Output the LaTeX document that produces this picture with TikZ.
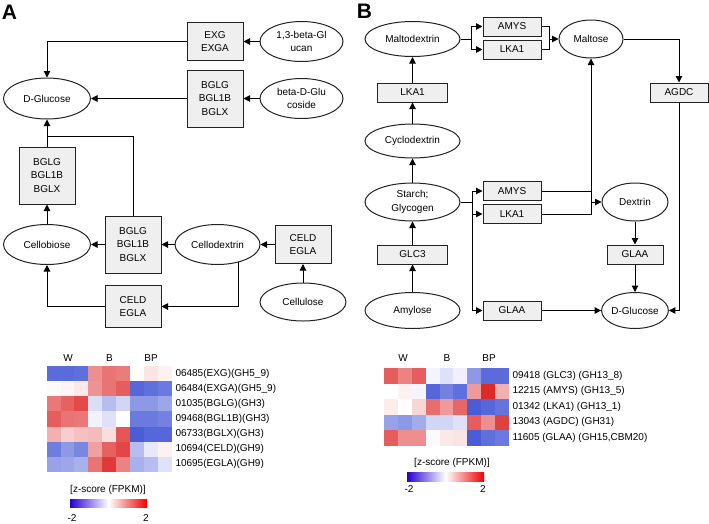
\documentclass[tikz,border=0pt]{standalone}
\usepackage{fontspec}
\setmainfont{Liberation Sans}
\usetikzlibrary{shapes.geometric,arrows.meta,calc}
\definecolor{boxfill}{HTML}{EFEFEF}
\definecolor{edge}{HTML}{222222}
\definecolor{hB}{RGB}{50,70,210}
\definecolor{hR}{RGB}{220,30,30}
\definecolor{cbB}{RGB}{40,0,210}
\definecolor{cbR}{RGB}{240,0,0}
\newcommand\hmrow[4]{\foreach \c/\p [count=\i from 0] in {#4} {\fill[\c!\p!white] ({#1+13.89*\i},#2) rectangle +(14.1,{#3+0.2});}}
\begin{document}
\begin{tikzpicture}[x=1pt,y=-1pt,font=\fontsize{10}{13.5}\selectfont,line width=1pt,
  ell/.style={ellipse,draw=edge,line width=1pt,inner sep=0pt,align=center},
  bx/.style={rectangle,draw=edge,fill=boxfill,line width=1pt,inner sep=0pt,align=center,minimum width=56pt},
  arr/.style={-{Triangle[length=6.5pt,width=6.5pt]}},
  lbl/.style={font=\fontsize{21}{21}\selectfont\bfseries,inner sep=0pt},
  rl/.style={anchor=west,inner sep=0pt},
  cl/.style={inner sep=0pt}]
\useasboundingbox (0,0) rectangle (709,523);
% panel labels
\node[lbl] (labA) at (9.5,12.5) {A};
\node[lbl] (labB) at (364.5,11.5) {B};
% ---------------- Panel A ----------------
\node[ell,minimum width=87pt,minimum height=41pt] (aglc) at (47,98.5) {D-Glucose};
\node[bx,minimum height=38pt] (aexg) at (215,41.5) {EXG\\EXGA};
\node[ell,minimum width=83pt,minimum height=40pt] (a13) at (301.5,41.5) {1,3-beta-Gl\\ucan};
\node[bx,minimum height=57pt] (abg1) at (215,98.5) {BGLG\\BGL1B\\BGLX};
\node[ell,minimum width=83pt,minimum height=40pt] (abdg) at (301.5,98.5) {beta-D-Glu\\coside};
\node[bx,minimum height=57pt] (abg2) at (47,175.5) {BGLG\\BGL1B\\BGLX};
\node[ell,minimum width=87pt,minimum height=40pt] (acb) at (47,244.5) {Cellobiose};
\node[bx,minimum height=57pt] (abg3) at (133,244.5) {BGLG\\BGL1B\\BGLX};
\node[ell,minimum width=85pt,minimum height=40pt] (acd) at (217.5,244.5) {Cellodextrin};
\node[bx,minimum height=38pt] (acel) at (303,244.5) {CELD\\EGLA};
\node[ell,minimum width=86pt,minimum height=38pt] (acl) at (303,302) {Cellulose};
\node[bx,minimum height=42pt] (acel2) at (133,306.5) {CELD\\EGLA};
\coordinate (aj) at (47,136);
\draw[arr] (a13) -- (aexg);
\draw[arr] (aexg.west) -| (aglc.north);
\draw[arr] (abdg) -- (abg1);
\draw[arr] (abg1) -- (aglc);
\draw[arr] (abg2) -- (aglc);
\draw (abg3.north) |- (aj);
\draw[arr] (acl) -- (acel);
\draw[arr] (acel) -- (acd);
\draw[arr] (acd) -- (abg3);
\draw[arr] (abg3) -- (acb);
\draw[arr] (acb) -- (abg2);
\draw[arr] (acd.-41) |- (acel2.east);
\draw[arr] (acel2.west) -| (acb.south);
% heatmap A
\node[cl] (hAw) at (68,358) {W};
\node[cl] (hAb) at (109.5,358) {B};
\node[cl] (hAbp) at (151,358) {BP};
\hmrow{46.7}{366}{15.14}{hB/80,hB/80,hB/78,hR/50,hR/62,hR/58,hB/0,hR/12,hR/6}
\hmrow{46.7}{381.14}{15.14}{hR/2,hR/5,hR/10,hR/48,hR/62,hR/72,hB/82,hB/78,hB/72}
\hmrow{46.7}{396.28}{15.14}{hR/60,hR/70,hR/80,hB/18,hB/35,hB/22,hB/55,hB/55,hB/48}
\hmrow{46.7}{411.42}{15.14}{hR/72,hR/62,hR/60,hB/7,hB/16,hB/0,hB/72,hB/72,hB/68}
\hmrow{46.7}{426.56}{15.14}{hR/35,hR/22,hR/28,hR/30,hR/15,hR/75,hB/88,hB/82,hB/82}
\hmrow{46.7}{441.70}{15.14}{hB/70,hB/55,hB/65,hR/42,hR/70,hR/82,hB/35,hB/12,hR/6}
\hmrow{46.7}{456.84}{15.14}{hB/50,hB/48,hB/42,hR/62,hR/88,hR/55,hB/42,hB/35,hB/15}
\node[rl] (ra1) at (175,373.6) {06485(EXG)(GH5\_9)};
\node[rl] (ra2) at (175,388.7) {06484(EXGA)(GH5\_9)};
\node[rl] (ra3) at (175,403.9) {01035(BGLG)(GH3)};
\node[rl] (ra4) at (175,419.0) {09468(BGL1B)(GH3)};
\node[rl] (ra5) at (175,434.1) {06733(BGLX)(GH3)};
\node[rl] (ra6) at (175,449.3) {10694(CELD)(GH9)};
\node[rl] (ra7) at (175,464.4) {10695(EGLA)(GH9)};
\node[cl] (cbAt) at (108,490) {[z-score (FPKM)]};
\shade[left color=cbB,right color=cbR,middle color=white] (70,499) rectangle (147,507.5);
\node[cl] (cbAl) at (72,518) {-2};
\node[cl] (cbAr) at (146,518) {2};
% ---------------- Panel B ----------------
\node[ell,minimum width=95pt,minimum height=35pt] (bmd) at (412.5,39) {Maltodextrin};
\node[bx,minimum width=58pt,minimum height=19pt] (bamy1) at (512,26.5) {AMYS};
\node[bx,minimum width=58pt,minimum height=19pt] (blk1) at (512,49.5) {LKA1};
\node[ell,minimum width=64pt,minimum height=38pt] (bmt) at (591,39) {Maltose};
\node[bx,minimum width=58pt,minimum height=19pt] (bagdc) at (679,92.5) {AGDC};
\node[bx,minimum width=70pt,minimum height=19pt] (blk0) at (412.5,92.5) {LKA1};
\node[ell,minimum width=95pt,minimum height=34pt] (bcyc) at (412.5,141) {Cyclodextrin};
\node[ell,minimum width=95pt,minimum height=38pt] (bst) at (412.5,202) {Starch;\\Glycogen};
\node[bx,minimum width=70pt,minimum height=19pt] (bglc3) at (412.5,254.5) {GLC3};
\node[ell,minimum width=95pt,minimum height=36pt] (bamyl) at (412.5,310.5) {Amylose};
\node[bx,minimum width=58pt,minimum height=19pt] (bamy2) at (512,191) {AMYS};
\node[bx,minimum width=58pt,minimum height=19pt] (blk2) at (512,214) {LKA1};
\node[ell,minimum width=66pt,minimum height=38pt] (bdx) at (635,202) {Dextrin};
\node[bx,minimum width=56pt,minimum height=19pt] (bgl1) at (635,254.5) {GLAA};
\node[bx,minimum width=58pt,minimum height=19pt] (bgl2) at (512,310.5) {GLAA};
\node[ell,minimum width=66pt,minimum height=36pt] (bglc) at (635,310.5) {D-Glucose};
\coordinate (bj1) at (471,39);
\coordinate (bj2) at (549,39);
\coordinate (bj3) at (472,202);
\coordinate (bj4) at (591,202);
\draw (bmd) -- (bj1);
\draw[arr] (bj1) |- (bamy1.west);
\draw[arr] (bj1) |- (blk1.west);
\draw (bamy1.east) -| (bj2);
\draw (blk1.east) -| (bj2);
\draw[arr] (bj2) -- (bmt);
\draw[arr] (bmt.east) -| (bagdc.north);
\draw[arr] (bagdc.south) |- (bglc.east);
\draw[arr] (blk0) -- (bmd);
\draw[arr] (bcyc) -- (blk0);
\draw[arr] (bst) -- (bcyc);
\draw[arr] (bglc3) -- (bst);
\draw[arr] (bamyl) -- (bglc3);
\draw (bst) -- (bj3);
\draw[arr] (bj3) |- (bamy2.west);
\draw[arr] (bj3) |- (blk2.west);
\draw[arr] (bj3) |- (bgl2.west);
\draw (bamy2.east) -- (bamy2.east -| bmt.south);
\draw[arr] (blk2.east) -| (bmt.south);
\draw[arr] (bj4) -- (bdx);
\draw[arr] (bdx) -- (bgl1);
\draw[arr] (bgl1) -- (bglc);
\draw[arr] (bgl2) -- (bglc);
% heatmap B
\node[cl] (hBw) at (403,358) {W};
\node[cl] (hBb) at (447,358) {B};
\node[cl] (hBbp) at (489,358) {BP};
\hmrow{384}{368}{15.54}{hR/72,hR/55,hR/72,hB/6,hB/16,hB/8,hB/55,hB/80,hB/80}
\hmrow{384}{383.54}{15.54}{hB/0,hR/6,hB/6,hB/82,hB/68,hB/78,hR/45,hR/95,hR/35}
\hmrow{384}{399.08}{15.54}{hR/8,hB/0,hR/18,hR/65,hR/45,hR/68,hB/88,hB/82,hB/75}
\hmrow{384}{414.62}{15.54}{hB/50,hB/55,hB/45,hB/22,hB/22,hB/16,hR/72,hR/50,hR/85}
\hmrow{384}{430.16}{15.54}{hR/72,hR/50,hR/50,hB/2,hR/10,hR/12,hB/88,hB/78,hB/72}
\node[rl] (rb1) at (512,375.8) {09418 (GLC3) (GH13\_8)};
\node[rl] (rb2) at (512,391.3) {12215 (AMYS) (GH13\_5)};
\node[rl] (rb3) at (512,406.9) {01342 (LKA1) (GH13\_1)};
\node[rl] (rb4) at (512,422.4) {13043 (AGDC) (GH31)};
\node[rl] (rb5) at (512,437.9) {11605 (GLAA) (GH15,CBM20)};
\node[cl] (cbBt) at (452,463) {[z-score (FPKM)]};
\shade[left color=cbB,right color=cbR,middle color=white] (407,472) rectangle (484,481);
\node[cl] (cbBl) at (409,489) {-2};
\node[cl] (cbBr) at (483,489) {2};
\end{tikzpicture}
\end{document}
